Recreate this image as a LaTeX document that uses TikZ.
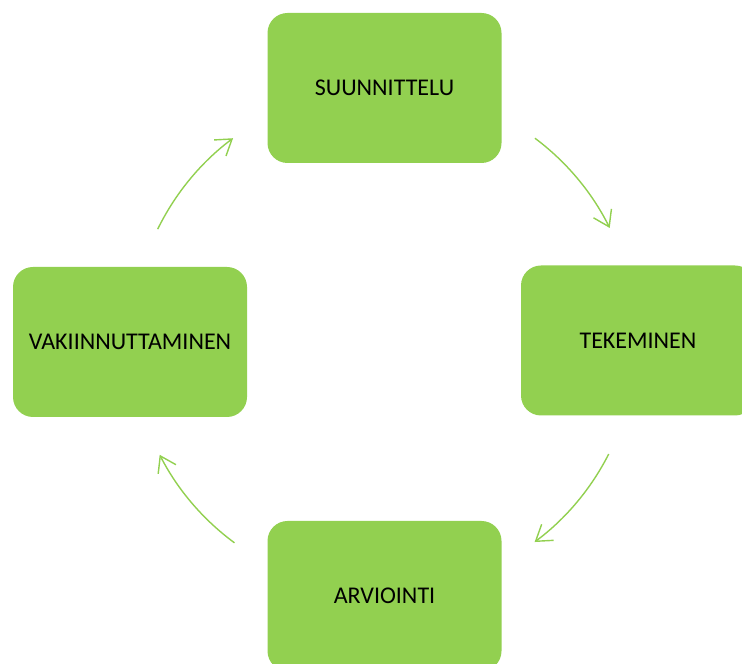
\documentclass[tikz,border=0pt]{standalone}
\usepackage{fontspec}
\setmainfont{Carlito}
\usetikzlibrary{arrows.meta,calc}
\definecolor{boxgreen}{HTML}{92D050}
\tikzset{
  stagebox/.style={fill=boxgreen, draw=none, rounded corners=20pt, minimum width=234pt, minimum height=150pt, inner sep=0pt, font=\fontsize{24}{28}\selectfont, text=black},
  cyclearrow/.style={draw=boxgreen, line width=1.4pt, -{Straight Barb[length=15pt,width=20pt,line width=1.4pt]}}
}
\begin{document}
\begin{tikzpicture}[x=1pt,y=1pt]
\useasboundingbox (0,0) rectangle (742,664);
\clip (0,0) rectangle (742,664);
\node[stagebox] (suun) at (384.5,576) {SUUNNITTELU};
\node[stagebox] (teke) at (638,323.5) {TEKEMINEN};
\node[stagebox] (arvi) at (384.5,68) {ARVIOINTI};
\node[stagebox] (vaki) at (130,322) {VAKIINNUTTAMINEN};
\coordinate (c) at (384,324);
\coordinate (s1) at ($(c)+(53.2:252)$);
\coordinate (s2) at ($(c)+(-26.9:252)$);
\coordinate (s3) at ($(c)+(233.6:252)$);
\coordinate (s4) at ($(c)+(153.9:252)$);
\draw[cyclearrow] (s1) arc[start angle=53.2, end angle=26.4, radius=252];
\draw[cyclearrow] (s2) arc[start angle=-26.9, end angle=-53.3, radius=252];
\draw[cyclearrow] (s3) arc[start angle=233.6, end angle=207.1, radius=252];
\draw[cyclearrow] (s4) arc[start angle=153.9, end angle=126.8, radius=252];
\end{tikzpicture}
\end{document}
